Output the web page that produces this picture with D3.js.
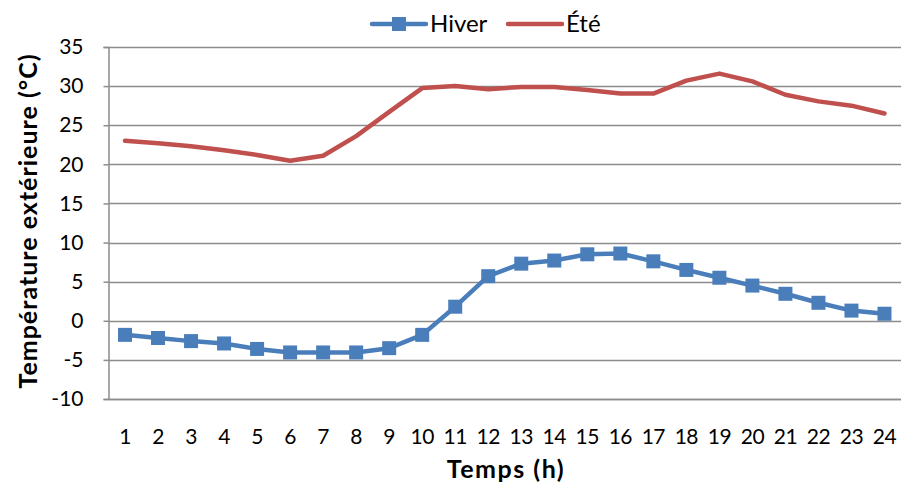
<!DOCTYPE html>
<html>
<head>
<meta charset="utf-8">
<script src="https://cdn.jsdelivr.net/npm/d3@7"></script>
<style>
  body { margin: 0; background: #fff; }
  text { font-family: Lato, "Open Sans", sans-serif; fill: #000; }
</style>
</head>
<body>
<div id="chart"></div>
<script>
const hours = d3.range(1, 25).map(String);
const hiver = [-1.8, -2.2, -2.6, -2.9, -3.6, -4.05, -4.05, -4.05, -3.5, -1.8, 1.8, 5.7,
               7.3, 7.7, 8.5, 8.6, 7.6, 6.5, 5.5, 4.5, 3.45, 2.3, 1.3, 0.9];
const ete = [23.0, 22.7, 22.3, 21.8, 21.2, 20.45, 21.1, 23.6, 26.7, 29.75, 30.0, 29.6,
             29.9, 29.9, 29.5, 29.05, 29.05, 30.7, 31.6, 30.6, 28.9, 28.05, 27.5, 26.5];
const yTicks = [-10, -5, 0, 5, 10, 15, 20, 25, 30, 35];
const seriesNames = ["Hiver", "Été"];
const seriesColors = ["#4a7ebb", "#c0504d"];

const config = { width: 901, height: 487, left: 108.5, right: 0, top: 47, bottom: 88 };

const svg = d3.select("#chart").append("svg")
  .attr("width", config.width)
  .attr("height", config.height);

const x = d3.scaleBand()
  .domain(hours)
  .range([config.left, config.width - config.right]);

const y = d3.scaleLinear()
  .domain([-10, 35])
  .range([config.height - config.bottom, config.top]);

// gridlines
svg.append("g")
  .selectAll("line")
  .data(yTicks)
  .join("line")
  .attr("x1", config.left)
  .attr("x2", config.width - config.right)
  .attr("y1", d => Math.round(y(d)) + 0.5)
  .attr("y2", d => Math.round(y(d)) + 0.5)
  .attr("stroke", "#8c8c8c")
  .attr("stroke-width", 1.5);

// y axis
const yAxis = svg.append("g")
  .attr("transform", `translate(${config.left},0)`)
  .call(d3.axisLeft(y).tickValues(yTicks).tickFormat(d => String(d)).tickSize(5).tickPadding(20));
yAxis.select(".domain").attr("stroke", "#8c8c8c").attr("stroke-width", 1.5);
yAxis.selectAll(".tick line").attr("stroke", "#8c8c8c").attr("stroke-width", 1.5);
yAxis.selectAll(".tick text").attr("font-size", 21).attr("font-family", "Lato");

// x axis
const xAxis = svg.append("g")
  .attr("transform", `translate(0,${config.height - config.bottom})`)
  .call(d3.axisBottom(x).tickSize(0).tickPadding(30));
xAxis.select(".domain").attr("stroke", "#8c8c8c").attr("stroke-width", 1.5);
xAxis.selectAll(".tick text").attr("font-size", 21).attr("font-family", "Lato")
  .attr("letter-spacing", -0.5);

const cx = d => x(d) + x.bandwidth() / 2;

const line = d3.line()
  .x((d, i) => cx(hours[i]))
  .y(d => y(d));

// Été
svg.append("path")
  .datum(ete)
  .attr("fill", "none")
  .attr("stroke", seriesColors[1])
  .attr("stroke-width", 4.5)
  .attr("stroke-linejoin", "round")
  .attr("stroke-linecap", "round")
  .attr("d", line);

// Hiver
svg.append("path")
  .datum(hiver)
  .attr("fill", "none")
  .attr("stroke", seriesColors[0])
  .attr("stroke-width", 4.5)
  .attr("stroke-linejoin", "round")
  .attr("d", line);

svg.append("g")
  .selectAll("rect")
  .data(hiver)
  .join("rect")
  .attr("x", (d, i) => cx(hours[i]) - 7)
  .attr("y", d => y(d) - 7)
  .attr("width", 14)
  .attr("height", 14)
  .attr("fill", seriesColors[0]);

// axis titles
svg.append("text")
  .attr("transform", `translate(37,${(config.top + config.height - config.bottom) / 2 - 2}) rotate(-90)`)
  .attr("text-anchor", "middle")
  .attr("font-size", 25)
  .attr("font-weight", "bold")
  .attr("letter-spacing", 1.0)
  .text("Température extérieure (°C)");

svg.append("text")
  .attr("x", 506)
  .attr("y", 478)
  .attr("text-anchor", "middle")
  .attr("font-size", 25)
  .attr("font-weight", "bold")
  .attr("letter-spacing", 1.5)
  .text("Temps (h)");

// legend
const legend = svg.append("g");
const legendX = [372, 508];
seriesNames.forEach((name, i) => {
  const g = legend.append("g").attr("transform", `translate(${legendX[i]},24)`);
  g.append("line")
    .attr("x1", 0).attr("x2", 54)
    .attr("stroke", seriesColors[i])
    .attr("stroke-width", 4.5)
    .attr("stroke-linecap", "round");
  if (i === 0) {
    g.append("rect").attr("x", 20).attr("y", -7).attr("width", 14).attr("height", 14)
      .attr("fill", seriesColors[i]);
  }
  g.append("text")
    .attr("x", 58)
    .attr("y", 8)
    .attr("font-size", 24)
    .text(name);
});
</script>
</body>
</html>
